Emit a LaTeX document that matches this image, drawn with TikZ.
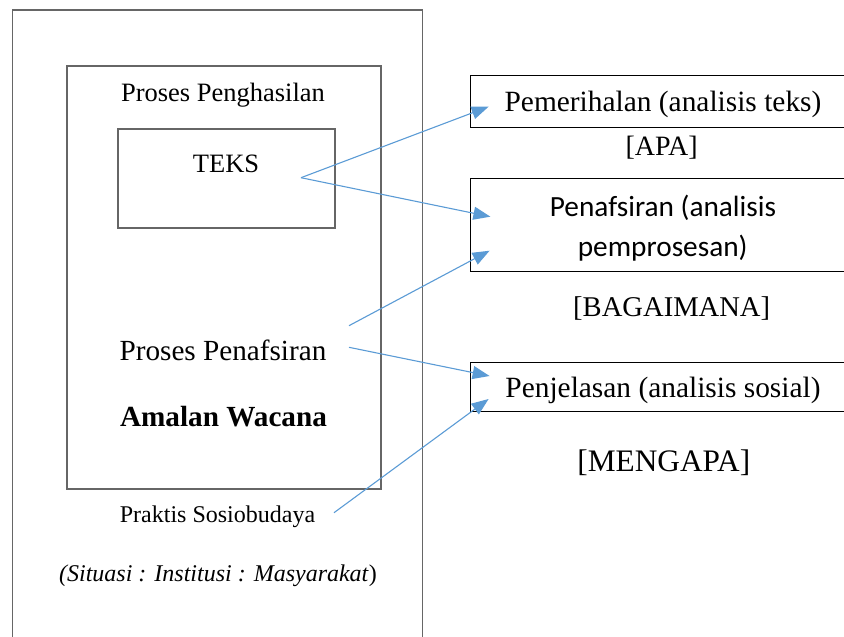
\documentclass[tikz,border=0pt]{standalone}
\usepackage{fontspec}
\setmainfont{Liberation Serif}
\newfontfamily\calibrifont{Carlito}
\usetikzlibrary{arrows.meta}
\definecolor{linkblue}{RGB}{91,155,213}

\begin{document}
\begin{tikzpicture}[x=1pt, y=-1pt,
    frame/.style={draw=black!60, line width=1.4pt, inner sep=0pt},
    rbox/.style={draw=black, line width=1pt, inner sep=0pt},
    lbl/.style={anchor=base, inner sep=0pt},
    link/.style={draw=linkblue, line width=1.1pt, -{Triangle[length=17pt, width=13pt]}}]
  \useasboundingbox (0,0) rectangle (844,637);
  \clip (0,0) rectangle (844,637);

  % nested frames on the left
  \node[frame, minimum width=410pt, minimum height=660pt] (outer) at (217.7,340) {};
  \node[frame, minimum width=314pt, minimum height=423pt] (middle) at (224,277.5) {};
  \node[frame, minimum width=217pt, minimum height=99pt] (teksbox) at (226.5,178.5) {};

  \node[lbl, font=\fontsize{26.5}{30}\selectfont] (penghasilan) at (223,101) {Proses Penghasilan};
  \node[lbl, font=\fontsize{26.5}{30}\selectfont] (teks) at (226,172.7) {TEKS};
  \node[lbl, font=\fontsize{29.2}{33}\selectfont] (penafsiran) at (223,360) {Proses Penafsiran};
  \node[lbl, font=\fontsize{29.2}{33}\selectfont\bfseries] (amalan) at (223.5,426.7) {Amalan Wacana};
  \node[lbl, font=\fontsize{24}{28}\selectfont] (praktis) at (217.5,522.7) {Praktis Sosiobudaya};
  \node[lbl, font=\fontsize{24}{28}\selectfont] (situasi) at (218,581.7)
    {\textit{(Situasi : Institusi : Masyarakat})};

  % boxes on the right
  \node[rbox, minimum width=390pt, minimum height=52pt] (pemerihalan) at (665,101) {};
  \node[rbox, minimum width=390pt, minimum height=93pt] (tafsiran) at (665,224.5) {};
  \node[rbox, minimum width=390pt, minimum height=49pt] (penjelasan) at (665,386.5) {};

  \node[lbl, font=\fontsize{29.4}{33}\selectfont] (pemerihalantxt) at (663,111.7) {Pemerihalan (analisis teks)};
  \node[lbl, font=\fontsize{28}{32}\selectfont] (apa) at (661.7,155) {[APA]};
  \node[lbl, font=\fontsize{29.3}{33}\selectfont\calibrifont] (tafsirantxtA) at (663,216.7) {Penafsiran (analisis};
  \node[lbl, font=\fontsize{29.3}{33}\selectfont\calibrifont] (tafsirantxtB) at (662.7,256.7) {pemprosesan)};
  \node[lbl, font=\fontsize{28.6}{32}\selectfont] (bagaimana) at (671.7,316) {[BAGAIMANA]};
  \node[lbl, font=\fontsize{29.4}{33}\selectfont] (penjelasantxt) at (663,397.3) {Penjelasan (analisis sosial)};
  \node[lbl, font=\fontsize{31.3}{35}\selectfont] (mengapa) at (663.8,471.7) {[MENGAPA]};

  % arrow ends
  \coordinate (teksout) at (301,177.7);
  \coordinate (tafsirA) at (349,325.7);
  \coordinate (tafsirB) at (349,347.3);
  \coordinate (sosio) at (334,512.7);
  \coordinate (pmrin) at (488.6,106.7);
  \coordinate (tfsinA) at (490.4,216.7);
  \coordinate (tfsinB) at (489.6,250.7);
  \coordinate (pjlinA) at (489.6,376);
  \coordinate (pjlinB) at (488.6,399);

  \draw[link] (teksout) -- (pmrin);
  \draw[link] (teksout) -- (tfsinA);
  \draw[link] (tafsirA) -- (tfsinB);
  \draw[link] (tafsirB) -- (pjlinA);
  \draw[link] (sosio) -- (pjlinB);
\end{tikzpicture}
\end{document}
